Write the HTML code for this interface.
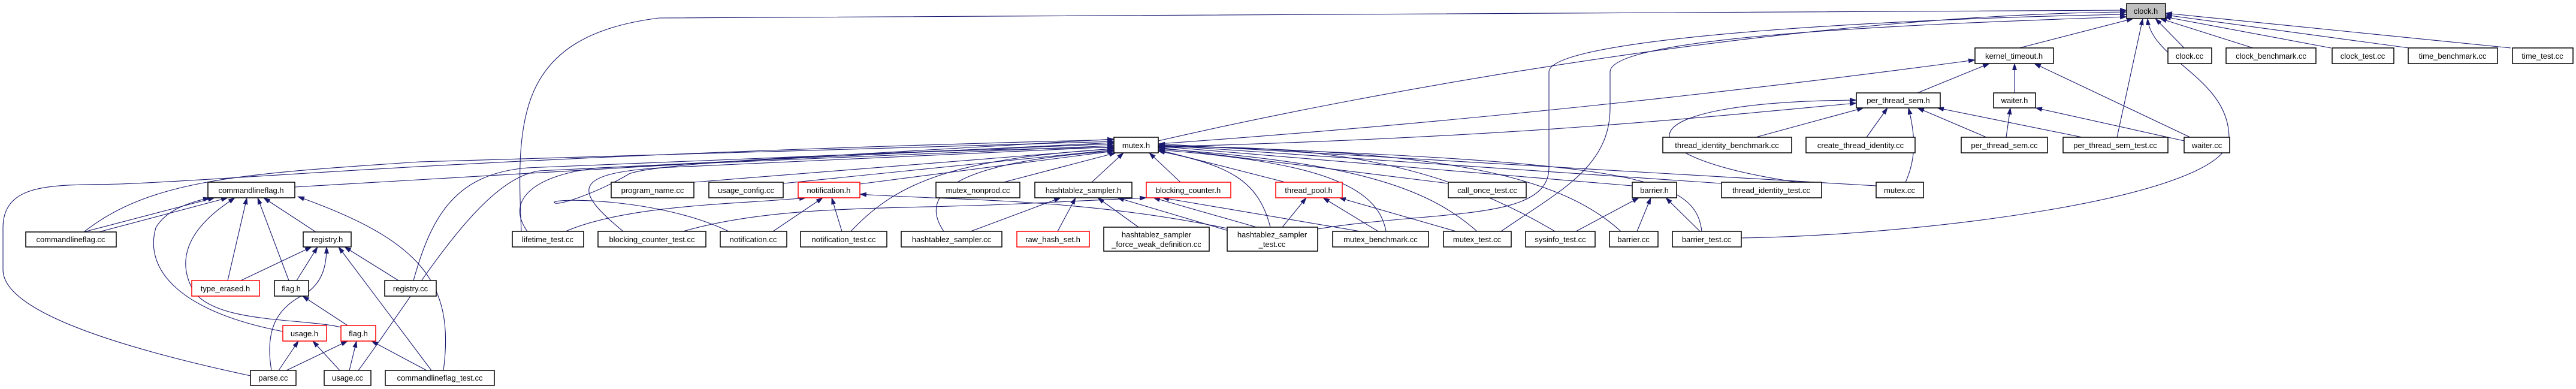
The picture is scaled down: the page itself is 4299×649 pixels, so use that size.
<!DOCTYPE html>
<html><head><meta charset="utf-8"><style>
html,body{margin:0;padding:0;background:#fff;}
svg{display:block;}
text{font-family:"Liberation Sans",sans-serif;font-size:13px;fill:#000;}
.e{fill:none;stroke:#191970;stroke-width:1.1;marker-end:url(#a);}
.n{fill:#fff;stroke:#000;stroke-width:1.5;}
.r{fill:#fff;stroke:#f00;stroke-width:1.5;}
</style></head><body>
<svg width="4299" height="649" viewBox="0 0 4299 649" xmlns="http://www.w3.org/2000/svg">
<defs><marker id="a" markerUnits="userSpaceOnUse" markerWidth="12" markerHeight="8" refX="11" refY="4" orient="auto"><path d="M0,0 L12,4 L0,8 z" fill="#191970"/></marker></defs>
<g>
<!-- clock.h -->
<path class="e" d="M3370,80 L3560,31"/>
<path class="e" d="M3645,80 L3597,31"/>
<path class="e" d="M3760,80 L3605,31"/>
<path class="e" d="M3890,80 L3612,28"/>
<path class="e" d="M4020,80 L3614,25"/>
<path class="e" d="M4190,80 L3614,22"/>
<path class="e" d="M3533,229 L3576,31"/>
<path class="e" d="M2906,397 C3200,393 3720,330 3720,230 C3720,130 3590,100 3584,31"/>
<path class="e" d="M1933,235 C2300,150 3000,25 3549,20"/>
<path class="e" d="M870,386 C862,200 860,60 1100,30 L3549,17"/>
<path class="e" d="M2199,382 C2400,350 2585,370 2585,280 L2585,120 C2585,60 3200,30 3549,24"/>
<path class="e" d="M2505,386 C2600,320 2687,280 2687,180 L2687,120 C2687,60 3200,40 3549,28"/>
<!-- kernel_timeout.h -->
<path class="e" d="M1933,240 C2500,200 3000,140 3296,100"/>
<path class="e" d="M3200,155 L3320,106"/>
<path class="e" d="M3362,155 L3362,106"/>
<path class="e" d="M3655,229 L3395,106"/>
<!-- per_thread_sem.h -->
<path class="e" d="M1933,245 C2500,230 2800,200 3098,172"/>
<path class="e" d="M3000,304 C2700,260 2700,170 3098,167"/>
<path class="e" d="M2930,229 L3110,180"/>
<path class="e" d="M3115,229 L3150,180"/>
<path class="e" d="M3315,229 L3200,180"/>
<path class="e" d="M3475,229 L3233,180"/>
<path class="e" d="M3180,304 C3200,260 3195,220 3185,180"/>
<!-- waiter.h -->
<path class="e" d="M3348,229 L3355,180"/>
<path class="e" d="M3645,235 L3397,180"/>
<!-- mutex.h left -->
<path class="e" d="M492,312 L1859,232"/>
<path class="e" d="M140,387 C250,300 400,290 700,270 L1859,236"/>
<path class="e" d="M418,627 C200,580 5,520 5,450 L5,380 C5,300 100,310 200,307 C400,300 800,260 1859,233"/>
<path class="e" d="M598,618 C700,480 800,300 900,285 L1859,238"/>
<path class="e" d="M690,468 C720,360 760,290 880,280 L1859,240"/>
<path class="e" d="M880,386 C840,330 900,290 1000,280 L1859,243"/>
<path class="e" d="M1040,386 C960,320 950,290 1100,280 L1859,245"/>
<path class="e" d="M1216,386 C1100,330 920,330 925,338 C930,345 1000,320 1050,290 C1100,270 1500,250 1859,246"/>
<path class="e" d="M1420,386 C1500,300 1600,265 1859,248"/>
<path class="e" d="M1158,304 L1859,248"/>
<path class="e" d="M1307,306 L1859,250"/>
<path class="e" d="M1435,307 L1859,252"/>
<path class="e" d="M1675,304 L1862,255"/>
<path class="e" d="M1822,304 L1875,255"/>
<path class="e" d="M1970,304 L1918,255"/>
<path class="e" d="M1575,386 C1530,320 1600,270 1859,252"/>
<!-- mutex.h right -->
<path class="e" d="M2145,304 L1933,250"/>
<path class="e" d="M2120,379 C2100,300 2050,275 1933,252"/>
<path class="e" d="M2313,386 C2300,310 2200,270 1933,250"/>
<path class="e" d="M2465,386 C2380,310 2250,270 1933,248"/>
<path class="e" d="M2417,306 L1933,246"/>
<path class="e" d="M2595,386 C2400,270 2200,240 1933,246"/>
<path class="e" d="M2724,310 L1933,244"/>
<path class="e" d="M2705,386 C2600,290 2400,250 1933,244"/>
<path class="e" d="M2840,386 C2830,290 2700,270 1933,242"/>
<path class="e" d="M2873,306 L1933,242"/>
<path class="e" d="M3131,310 L1933,240"/>
<!-- commandlineflag.h -->
<path class="e" d="M140,387 L358,330"/>
<path class="e" d="M165,387 L380,330"/>
<path class="e" d="M527,387 L440,330"/>
<path class="e" d="M380,468 L412,330"/>
<path class="e" d="M482,468 L430,330"/>
<path class="e" d="M472,553 C300,520 240,450 260,380 C280,345 330,335 350,330"/>
<path class="e" d="M569,546 C500,530 350,540 320,480 C280,400 370,345 392,330"/>
<path class="e" d="M740,618 C760,470 700,400 497,328"/>
<!-- registry.h -->
<path class="e" d="M402,468 L520,412"/>
<path class="e" d="M495,468 L530,412"/>
<path class="e" d="M665,468 L575,412"/>
<path class="e" d="M453,618 C440,540 470,510 510,490 C540,470 545,440 545,412"/>
<path class="e" d="M720,618 L565,412"/>
<!-- flag/usage -->
<path class="e" d="M580,543 L505,494"/>
<path class="e" d="M465,618 L498,569"/>
<path class="e" d="M567,618 L522,569"/>
<path class="e" d="M478,618 L580,569"/>
<path class="e" d="M583,618 L595,569"/>
<path class="e" d="M712,618 L620,569"/>
<!-- notification.h -->
<path class="e" d="M944,386 C1050,340 1250,340 1345,330"/>
<path class="e" d="M1290,386 L1373,330"/>
<path class="e" d="M1405,386 L1388,330"/>
<path class="e" d="M2048,381 C1800,330 1600,335 1435,324"/>
<!-- blocking_counter.h -->
<path class="e" d="M1140,386 C1300,340 1500,350 1700,340 L1913,330"/>
<path class="e" d="M2097,379 L1925,330"/>
<path class="e" d="M2270,386 L1940,330"/>
<!-- thread_pool.h -->
<path class="e" d="M2140,379 L2180,330"/>
<path class="e" d="M2300,386 L2208,330"/>
<path class="e" d="M2430,386 L2235,330"/>
<!-- hashtablez_sampler.h -->
<path class="e" d="M1620,386 L1770,330"/>
<path class="e" d="M1765,386 L1795,330"/>
<path class="e" d="M1900,379 L1832,330"/>
<path class="e" d="M2050,385 L1865,330"/>
<!-- barrier.h -->
<path class="e" d="M2630,386 L2735,330"/>
<path class="e" d="M2732,386 L2755,330"/>
<path class="e" d="M2837,386 L2780,330"/>
</g>
<g text-anchor="middle">
<rect x="3549" y="6" width="65" height="25" fill="#bfbfbf" stroke="#000" stroke-width="1.5"/><text x="3581" y="23">clock.h</text>
<rect class="n" x="3296" y="80" width="131" height="26"/><text x="3361" y="98">kernel_timeout.h</text>
<rect class="n" x="3618" y="80" width="73" height="26"/><text x="3654" y="98">clock.cc</text>
<rect class="n" x="3715" y="80" width="150" height="26"/><text x="3790" y="98">clock_benchmark.cc</text>
<rect class="n" x="3892" y="80" width="103" height="26"/><text x="3943" y="98">clock_test.cc</text>
<rect class="n" x="4019" y="80" width="149" height="26"/><text x="4093" y="98">time_benchmark.cc</text>
<rect class="n" x="4193" y="80" width="101" height="26"/><text x="4243" y="98">time_test.cc</text>
<rect class="n" x="3098" y="155" width="140" height="25"/><text x="3168" y="172">per_thread_sem.h</text>
<rect class="n" x="3327" y="155" width="70" height="25"/><text x="3362" y="172">waiter.h</text>
<rect class="n" x="2775" y="229" width="215" height="26"/><text x="2882" y="247">thread_identity_benchmark.cc</text>
<rect class="n" x="3014" y="229" width="182" height="26"/><text x="3105" y="247">create_thread_identity.cc</text>
<rect class="n" x="3273" y="229" width="144" height="26"/><text x="3345" y="247">per_thread_sem.cc</text>
<rect class="n" x="3443" y="229" width="175" height="26"/><text x="3530" y="247">per_thread_sem_test.cc</text>
<rect class="n" x="3645" y="229" width="76" height="26"/><text x="3683" y="247">waiter.cc</text>
<rect class="n" x="1859" y="229" width="74" height="26"/><text x="1896" y="247">mutex.h</text>
<rect class="n" x="1020" y="304" width="138" height="26"/><text x="1089" y="322">program_name.cc</text>
<rect class="n" x="1183" y="304" width="124" height="26"/><text x="1245" y="322">usage_config.cc</text>
<rect class="r" x="1332" y="304" width="103" height="26"/><text x="1383" y="322">notification.h</text>
<rect class="n" x="1562" y="304" width="140" height="26"/><text x="1632" y="322">mutex_nonprod.cc</text>
<rect class="n" x="1727" y="304" width="162" height="26"/><text x="1808" y="322">hashtablez_sampler.h</text>
<rect class="r" x="1913" y="304" width="141" height="26"/><text x="1983" y="322">blocking_counter.h</text>
<rect class="r" x="2129" y="304" width="111" height="26"/><text x="2184" y="322">thread_pool.h</text>
<rect class="n" x="2417" y="304" width="130" height="26"/><text x="2482" y="322">call_once_test.cc</text>
<rect class="n" x="2724" y="304" width="74" height="26"/><text x="2761" y="322">barrier.h</text>
<rect class="n" x="2873" y="304" width="167" height="26"/><text x="2956" y="322">thread_identity_test.cc</text>
<rect class="n" x="3131" y="304" width="79" height="26"/><text x="3170" y="322">mutex.cc</text>
<rect class="n" x="347" y="304" width="145" height="26"/><text x="419" y="322">commandlineflag.h</text>
<rect class="n" x="43" y="387" width="151" height="25"/><text x="118" y="404">commandlineflag.cc</text>
<rect class="n" x="506" y="387" width="80" height="25"/><text x="546" y="404">registry.h</text>
<rect class="n" x="855" y="386" width="119" height="26"/><text x="914" y="404">lifetime_test.cc</text>
<rect class="n" x="998" y="386" width="180" height="26"/><text x="1088" y="404">blocking_counter_test.cc</text>
<rect class="n" x="1202" y="386" width="111" height="26"/><text x="1257" y="404">notification.cc</text>
<rect class="n" x="1336" y="386" width="144" height="26"/><text x="1408" y="404">notification_test.cc</text>
<rect class="n" x="1504" y="386" width="168" height="26"/><text x="1588" y="404">hashtablez_sampler.cc</text>
<rect class="r" x="1697" y="386" width="121" height="26"/><text x="1757" y="404">raw_hash_set.h</text>
<rect class="n" x="1842" y="379" width="176" height="40"/><text x="1930" y="396">hashtablez_sampler</text><text x="1930" y="412">_force_weak_definition.cc</text>
<rect class="n" x="2048" y="379" width="151" height="40"/><text x="2123" y="396">hashtablez_sampler</text><text x="2123" y="412">_test.cc</text>
<rect class="n" x="2224" y="386" width="160" height="26"/><text x="2304" y="404">mutex_benchmark.cc</text>
<rect class="n" x="2409" y="386" width="113" height="26"/><text x="2465" y="404">mutex_test.cc</text>
<rect class="n" x="2546" y="386" width="116" height="26"/><text x="2604" y="404">sysinfo_test.cc</text>
<rect class="n" x="2686" y="386" width="81" height="26"/><text x="2726" y="404">barrier.cc</text>
<rect class="n" x="2791" y="386" width="115" height="26"/><text x="2848" y="404">barrier_test.cc</text>
<rect class="r" x="320" y="468" width="113" height="26"/><text x="376" y="486">type_erased.h</text>
<rect class="n" x="458" y="468" width="57" height="26"/><text x="486" y="486">flag.h</text>
<rect class="n" x="642" y="468" width="86" height="26"/><text x="685" y="486">registry.cc</text>
<rect class="r" x="472" y="543" width="73" height="26"/><text x="508" y="561">usage.h</text>
<rect class="r" x="569" y="543" width="58" height="26"/><text x="598" y="561">flag.h</text>
<rect class="n" x="418" y="618" width="76" height="25"/><text x="456" y="635">parse.cc</text>
<rect class="n" x="541" y="618" width="78" height="25"/><text x="580" y="635">usage.cc</text>
<rect class="n" x="643" y="618" width="182" height="25"/><text x="734" y="635">commandlineflag_test.cc</text>
</g>
</svg>
</body></html>
